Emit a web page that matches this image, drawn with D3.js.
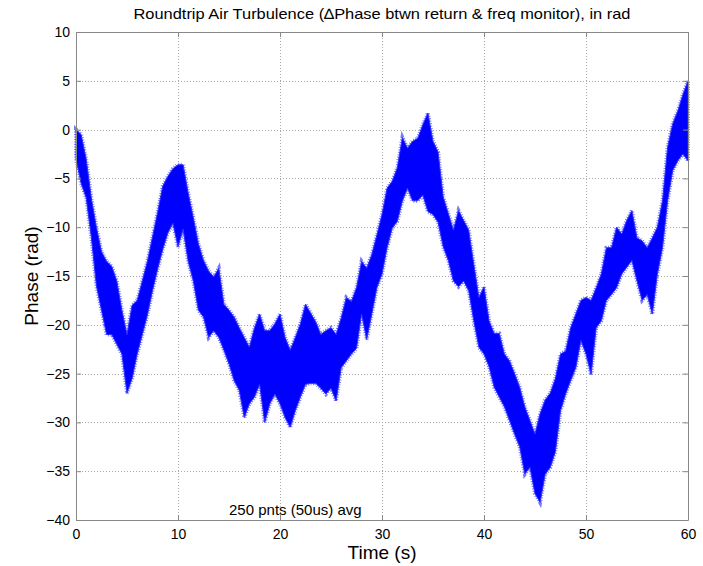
<!DOCTYPE html>
<meta charset="utf-8">
<style>
body { margin: 0; background: #fff; }
text { font-family: "Liberation Sans", Arial, sans-serif; fill: #000; }
.grid line { stroke: #a8a8a8; stroke-width: 1px; stroke-dasharray: 1,2; }
.axis path, .axis line { stroke: #888; }
.axis text { font-size: 14px; }
</style>
<body>
<script src="https://d3js.org/d3.v7.min.js"></script>
<script>
var width = 703,
    height = 566;
var margin = {top: 32, right: 15, bottom: 46, left: 76};

// sample times (s), upper and lower edge of the trace (rad)
var times = [0,0.5,1,1.5,2,2.5,3,3.5,4,4.5,5,5.5,6,6.5,7,7.5,8,8.5,9,9.5,
  10,10.5,11,11.5,12,12.5,13,13.5,14,14.5,15,15.5,16,16.5,17,17.5,18,18.5,19,19.5,
  20,20.5,21,21.5,22,22.5,23,23.5,24,24.5,25,25.5,26,26.5,27,27.5,28,28.5,29,29.5,
  30,30.5,31,31.5,32,32.5,33,33.5,34,34.5,35,35.5,36,36.5,37,37.5,38,38.5,39,39.5,
  40,40.5,41,41.5,42,42.5,43,43.5,44,44.5,45,45.5,46,46.5,47,47.5,48,48.5,49,49.5,
  50,50.5,51,51.5,52,52.5,53,53.5,54,54.5,55,55.5,56,56.5,57,57.5,58,58.5,59,59.5,60];
var upper = [0,-0.5,-3,-7,-10,-12.5,-13.5,-14,-15.5,-18.5,-21,-18,-17.5,-15.5,-13.5,-11,-8.5,-5.8,-4.8,-4,
  -3.6,-3.6,-6.5,-9,-11.7,-13.4,-14.5,-15.1,-14.2,-17.9,-18.5,-19.2,-20.3,-21.3,-22.3,-20.3,-18.9,-20.6,-20.6,-19.9,
  -18.9,-21.3,-22.6,-21.3,-19.9,-17.9,-18.8,-19.7,-21,-20.6,-20.3,-21,-19.3,-17.2,-17.6,-16.2,-13.5,-14.2,-12.8,-10.8,
  -8.7,-6,-5.3,-3.9,-0.8,-1.9,-1.2,-0.9,0.5,1.7,-1.2,-2.3,-6.9,-8.6,-10.3,-8.3,-9.3,-10.3,-13.8,-17.2,
  -16.1,-19.6,-20.9,-20.9,-23,-23.7,-25,-26.4,-28.4,-29.8,-31.2,-29.1,-27.7,-27,-25.5,-23,-22.7,-20.3,-18.9,-17.5,
  -17.2,-17.5,-16.2,-14.8,-12.1,-12.1,-10,-10.7,-9.3,-8.3,-11.1,-11.4,-12.1,-11.1,-10,-7.3,-1.8,0.6,1.9,3.6,5];
var lower = [-3,-5.5,-7,-11,-16,-18.5,-21,-21,-22,-23,-27,-25.5,-23,-21,-19,-16.5,-14.3,-12.3,-10.6,-9.6,
  -12,-10.2,-13.5,-15.5,-18.5,-19.2,-21.3,-20.6,-21.3,-22.6,-24,-25.7,-26.7,-29.5,-28.1,-27.4,-26.1,-30,-28.1,-27.1,
  -28.1,-29.5,-30.5,-28.8,-27.4,-26.1,-26,-26,-26.5,-27.1,-26.5,-27.8,-24.4,-23.7,-23,-22.4,-18.9,-21.5,-18.9,-16.2,
  -14.8,-12.1,-10.1,-9.4,-7.3,-6,-7.3,-7.3,-6.7,-8.4,-8.7,-9.5,-12,-13.4,-15.5,-16.1,-15.5,-16.5,-19.6,-22.3,
  -23,-24.3,-26.4,-27.4,-28.4,-29.8,-31.2,-32.5,-35.3,-34.6,-37.3,-38.2,-35.3,-34.6,-33,-28.8,-27.1,-25.7,-24.4,-21.6,
  -23,-25.1,-20.3,-19.6,-17.5,-16.9,-16.2,-14.8,-14.1,-13.4,-15.5,-17.5,-16.9,-18.9,-14.8,-12.1,-7.3,-4.2,-3.2,-2.5,-3.2];

var xTicks = [0, 10, 20, 30, 40, 50, 60];
var yTicks = [10, 5, 0, -5, -10, -15, -20, -25, -30, -35, -40];

var data = times.map(function(t, i) {
  return {t: t, hi: upper[i], lo: lower[i]};
});

var svg = d3.select("body").append("svg")
    .attr("width", width)
    .attr("height", height);

var x = d3.scaleLinear()
    .domain([0, 60])
    .range([margin.left, width - margin.right]);
var y = d3.scaleLinear()
    .domain([-40, 10])
    .range([height - margin.bottom, margin.top]);

// dotted grid
var grid = svg.append("g").attr("class", "grid");
grid.selectAll(".gx")
    .data(xTicks.slice(1, -1))
    .enter().append("line")
    .attr("x1", function(d) { return x(d) + 0.5; })
    .attr("x2", function(d) { return x(d) + 0.5; })
    .attr("y1", y(10))
    .attr("y2", y(-40));
grid.selectAll(".gy")
    .data(yTicks.slice(1, -1))
    .enter().append("line")
    .attr("x1", x(0))
    .attr("x2", x(60))
    .attr("y1", function(d) { return Math.round(y(d)) + 0.5; })
    .attr("y2", function(d) { return Math.round(y(d)) + 0.5; });

// the trace: light fuzzy fringe, then the solid core
var area = d3.area()
    .x(function(d) { return x(d.t); })
    .y0(function(d) { return y(d.lo); })
    .y1(function(d) { return y(d.hi); });

var trace = svg.append("g");
trace.append("path")
    .datum(data)
    .attr("d", area)
    .style("fill", "none")
    .style("stroke", "#7a7aff")
    .style("stroke-width", 4)
    .style("stroke-dasharray", "1,1.5");
trace.append("path")
    .datum(data)
    .attr("d", area)
    .style("fill", "#0000ff")
    .style("stroke", "#3030ff")
    .style("stroke-width", 1);

// axes box, ticks pointing inward
svg.append("g")
    .attr("class", "axis")
    .attr("transform", "translate(0," + y(-40) + ")")
    .call(d3.axisBottom(x).tickValues(xTicks).tickSizeInner(-5).tickSizeOuter(0).tickPadding(9));
svg.append("g")
    .attr("class", "axis")
    .attr("transform", "translate(" + x(0) + ",0)")
    .call(d3.axisLeft(y).tickValues(yTicks).tickSizeInner(-5).tickSizeOuter(0).tickPadding(6));
svg.append("g")
    .attr("class", "axis")
    .attr("transform", "translate(0," + y(10) + ")")
    .call(d3.axisTop(x).tickValues(xTicks).tickSizeInner(-5).tickSizeOuter(0).tickFormat(""));
svg.append("g")
    .attr("class", "axis")
    .attr("transform", "translate(" + x(60) + ",0)")
    .call(d3.axisRight(y).tickValues(yTicks).tickSizeInner(-5).tickSizeOuter(0).tickFormat(""));

svg.selectAll(".axis .domain").style("stroke", "#888");

svg.append("text")
    .attr("x", (x(0) + x(60)) / 2)
    .attr("y", 19)
    .attr("text-anchor", "middle")
    .attr("textLength", 497)
    .attr("lengthAdjust", "spacingAndGlyphs")
    .style("font-size", "15px")
    .text("Roundtrip Air Turbulence (\u2206Phase btwn return & freq monitor), in rad");

svg.append("text")
    .attr("x", (x(0) + x(60)) / 2)
    .attr("y", 559)
    .attr("text-anchor", "middle")
    .style("font-size", "19px")
    .text("Time (s)");

svg.append("text")
    .attr("transform", "translate(38," + (y(10) + y(-40)) / 2 + ") rotate(-90)")
    .attr("text-anchor", "middle")
    .style("font-size", "19px")
    .text("Phase (rad)");

svg.append("text")
    .attr("x", x(15))
    .attr("y", 515)
    .style("font-size", "15px")
    .text("250 pnts (50us) avg");
</script>
</body>
